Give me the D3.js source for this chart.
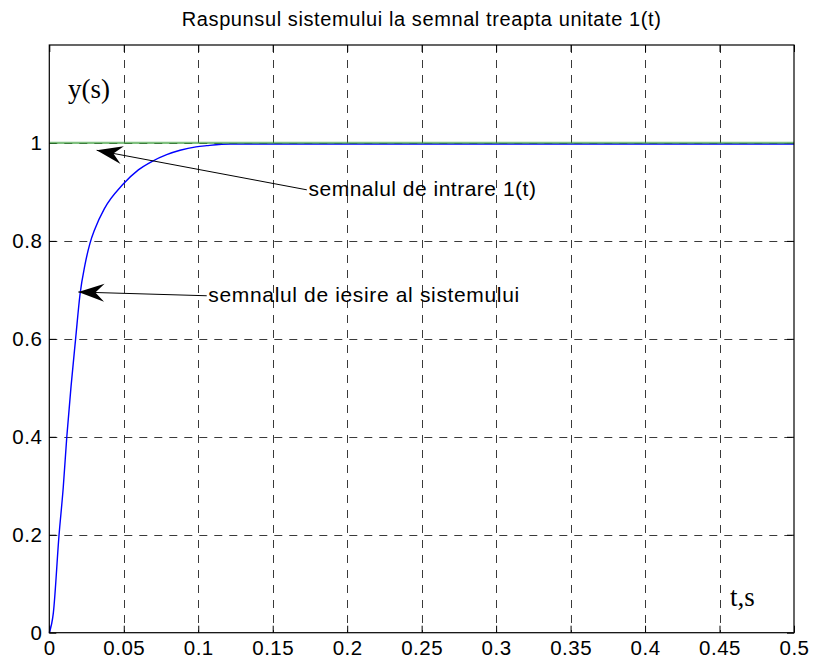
<!DOCTYPE html>
<html>
<head>
<meta charset="utf-8">
<script src="https://cdn.jsdelivr.net/npm/d3@7"></script>
<style>
  html, body { margin: 0; padding: 0; background: #fff; }
  svg { display: block; }
</style>
</head>
<body>
<svg id="chart" width="813" height="660"></svg>
<script>
// ---- data ----
const titleText = "Raspunsul sistemului la semnal treapta unitate 1(t)";
const xTicks = [0, 0.05, 0.1, 0.15, 0.2, 0.25, 0.3, 0.35, 0.4, 0.45, 0.5];
const xTickLabels = ["0", "0.05", "0.1", "0.15", "0.2", "0.25", "0.3", "0.35", "0.4", "0.45", "0.5"];
const yTicks = [0, 0.2, 0.4, 0.6, 0.8, 1];
const yTickLabels = ["0", "0.2", "0.4", "0.6", "0.8", "1"];

// output signal (blue)
const outT = [0, 0.0027, 0.0065, 0.0094, 0.0117, 0.0146, 0.0177, 0.0206, 0.024, 0.0273, 0.0307, 0.037, 0.0493, 0.0598, 0.0688, 0.0788, 0.0878, 0.0985, 0.1057, 0.1214, 0.5];
const outY = [0, 0.04, 0.198, 0.298, 0.398, 0.503, 0.601, 0.69, 0.752, 0.795, 0.825, 0.866, 0.915, 0.945, 0.962, 0.976, 0.985, 0.992, 0.9945, 0.998, 0.998];

// input signal (green) unit step
const inT = [0, 0.5];
const inY = [1, 1];

// annotations (data coordinates)
const annText = ["semnalul de intrare 1(t)", "semnalul de iesire al sistemului"];
const annTip = [[0.0318, 0.985], [0.0195, 0.6956]];
const annTail = [[0.1729, 0.9043], [0.1057, 0.688]];
const annTextPos = [[0.174, 0.891], [0.1068, 0.6757]];

const yLabel = "y(s)", yLabelPos = [0.0126, 1.092];
const xLabel = "t,s", xLabelPos = [0.457, 0.0546];

// ---- layout ----
const svg = d3.select("#chart");
const L = 49.3, T = 45, R = 794, B = 632.7;
const x = d3.scaleLinear().domain([0, 0.5]).range([L, R]);
const y = d3.scaleLinear().domain([0, 1.2]).range([B, T]);

const sans = "'Liberation Sans', Arial, Helvetica, sans-serif";
const serif = "'Liberation Serif', 'Times New Roman', serif";

// grid
const grid = svg.append("g").attr("stroke", "#3a3a3a").attr("stroke-width", 1).attr("stroke-dasharray", "8,7");
grid.selectAll("line.v").data(xTicks.filter(d => d > 0 && d < 0.5)).enter().append("line")
  .attr("x1", d => Math.round(x(d)) + 0.5).attr("x2", d => Math.round(x(d)) + 0.5)
  .attr("y1", T).attr("y2", B);
grid.selectAll("line.h").data(yTicks.filter(d => d > 0)).enter().append("line")
  .attr("y1", d => Math.round(y(d)) + 0.5).attr("y2", d => Math.round(y(d)) + 0.5)
  .attr("x1", L).attr("x2", R);

// axes with inward ticks
const tickLen = 7;
const axB = d3.axisBottom(x).tickValues(xTicks).tickFormat((d, i) => xTickLabels[i]).tickSizeInner(-tickLen).tickSizeOuter(0).tickPadding(8);
const axT = d3.axisTop(x).tickValues(xTicks).tickFormat("").tickSizeInner(-tickLen).tickSizeOuter(0);
const axL = d3.axisLeft(y).tickValues(yTicks).tickFormat((d, i) => yTickLabels[i]).tickSizeInner(-tickLen).tickSizeOuter(0).tickPadding(7);
const axR = d3.axisRight(y).tickValues(yTicks).tickFormat("").tickSizeInner(-tickLen).tickSizeOuter(0);

function styleAxis(g) {
  g.select(".domain").remove();
  g.selectAll("line").attr("stroke", "#000");
  g.selectAll("text").attr("fill", "#000").style("font-family", sans).style("font-size", "20.5px").style("letter-spacing", "0.5px");
}
svg.append("g").attr("transform", `translate(0,${B})`).call(axB).call(styleAxis)
  .selectAll("text").attr("dy", "0.71em");
svg.append("g").attr("transform", `translate(0,${T})`).call(axT).call(styleAxis);
svg.append("g").attr("transform", `translate(${L},0)`).call(axL).call(styleAxis);
svg.append("g").attr("transform", `translate(${R},0)`).call(axR).call(styleAxis);

// lines
const line = d3.line().x(d => x(d[0])).y(d => y(d[1])).curve(d3.curveMonotoneX);
svg.append("path").datum(outT.map((t, i) => [t, outY[i]]))
  .attr("fill", "none").attr("stroke", "#0000ff").attr("stroke-width", 1.4).attr("d", line);
svg.append("path").datum(inT.map((t, i) => [t, inY[i]]))
  .attr("fill", "none").attr("stroke", "rgb(60,160,60)").attr("stroke-opacity", 0.65).attr("stroke-width", 2.2).attr("d", line);

// box
svg.append("rect").attr("x", L).attr("y", T).attr("width", R - L).attr("height", B - T)
  .attr("fill", "none").attr("stroke", "#000").attr("stroke-width", 1.2);

// title
svg.append("text").attr("x", (L + R) / 2).attr("y", 26).attr("text-anchor", "middle")
  .style("font-family", sans).style("font-size", "20px").style("letter-spacing", "0.6px").text(titleText);

// axis labels
svg.append("text").attr("x", x(yLabelPos[0])).attr("y", y(yLabelPos[1]))
  .style("font-family", serif).style("font-size", "27px").text(yLabel);
svg.append("text").attr("x", x(xLabelPos[0])).attr("y", y(xLabelPos[1]))
  .style("font-family", serif).style("font-size", "27px").text(xLabel);

// annotations with arrows
function arrowHead(tip, tail) {
  const dx = tail[0] - tip[0], dy = tail[1] - tip[1];
  const len = Math.hypot(dx, dy), ux = dx / len, uy = dy / len;
  const px = -uy, py = ux;
  const Lh = 26, W = 9, N = 17;
  const p = (a, b) => [tip[0] + ux * a + px * b, tip[1] + uy * a + py * b];
  return [tip, p(Lh, W), p(N, 0), p(Lh, -W)];
}
const annSpacing = ["0.5px", "0.65px"];
annText.forEach((txt, i) => {
  const tip = [x(annTip[i][0]), y(annTip[i][1])];
  const tail = [x(annTail[i][0]), y(annTail[i][1])];
  svg.append("line").attr("x1", tail[0]).attr("y1", tail[1]).attr("x2", tip[0]).attr("y2", tip[1])
    .attr("stroke", "#000").attr("stroke-width", 1);
  svg.append("path").attr("d", d3.line()(arrowHead(tip, tail)) + "Z").attr("fill", "#000");
  svg.append("text").attr("x", x(annTextPos[i][0])).attr("y", y(annTextPos[i][1]))
    .style("font-family", sans).style("font-size", "21px").style("letter-spacing", annSpacing[i]).text(txt);
});
</script>
</body>
</html>
